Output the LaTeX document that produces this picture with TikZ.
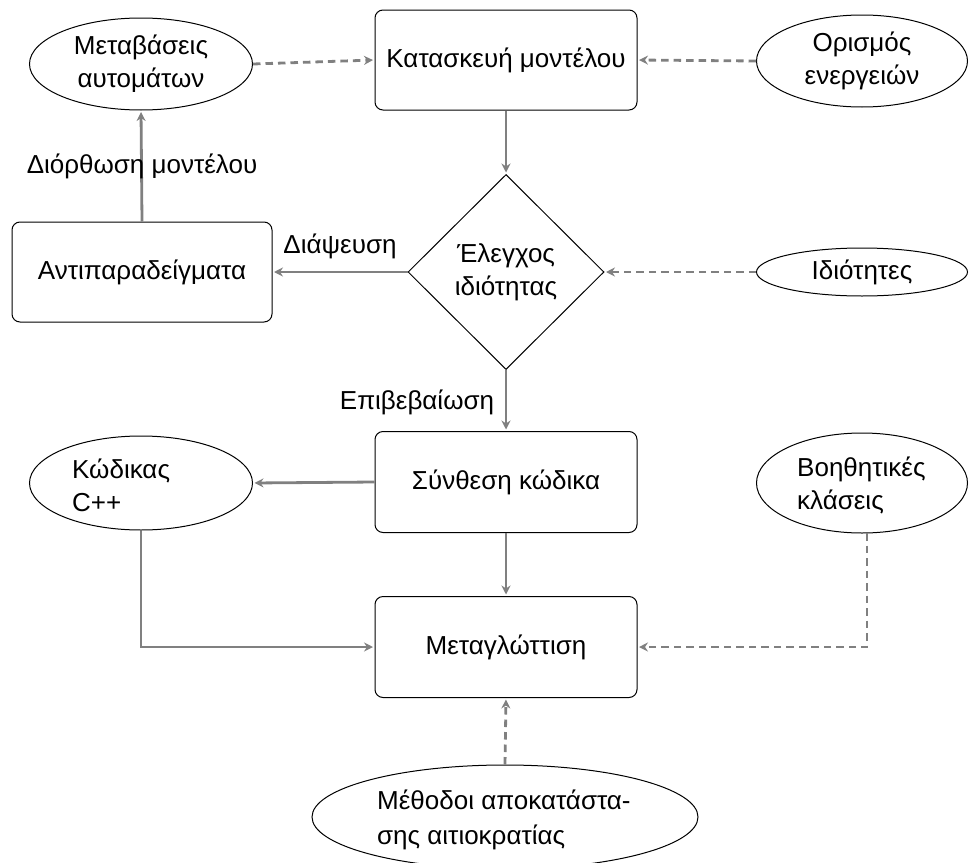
\documentclass[tikz,border=0pt]{standalone}
\usepackage{fontspec}
\setmainfont{Liberation Sans}
\usetikzlibrary{shapes.geometric,arrows.meta}
\definecolor{lnk}{RGB}{128,128,128}
\tikzset{
  box/.style={draw=black, line width=1pt, rounded corners=8pt, minimum width=262pt, minimum height=100pt, inner sep=0pt, font=\fontsize{26}{33}\selectfont},
  ell/.style={draw=black, line width=1pt, ellipse, inner sep=0pt, font=\fontsize{26}{33}\selectfont},
  conn/.style={draw=lnk, line width=2.8pt, -{Stealth[length=9pt,width=9pt,inset=3pt]}, shorten >=1.5pt},
  dconn/.style={conn, dash pattern=on 7.5pt off 5pt},
  lbl/.style={font=\fontsize{26}{33}\selectfont, inner sep=0pt}
}
\begin{document}
\begin{tikzpicture}[x=1pt,y=-1pt]
\useasboundingbox (0,0) rectangle (977,862);
% nodes
\node[box] (build) at (506,60) {Κατασκευή μοντέλου};
\node[ell, minimum width=223pt, minimum height=92pt, align=center] (trans) at (141,64) {Μεταβάσεις\\αυτομάτων};
\node[ell, minimum width=211pt, minimum height=92pt, align=center] (defs) at (862,61) {Ορισμός\\ενεργειών};
\node[draw=black, line width=1pt, diamond, minimum width=196pt, minimum height=195pt, inner sep=0pt, align=center, font=\fontsize{26}{33}\selectfont] (check) at (506,272) {Έλεγχος\\ιδιότητας};
\node[ell, minimum width=211pt, minimum height=48pt] (props) at (862,272) {Ιδιότητες};
\node[box, minimum width=260pt] (cex) at (142,272) {Αντιπαραδείγματα};
\node[box, minimum height=101pt] (synth) at (506,482) {Σύνθεση κώδικα};
\node[ell, minimum width=223pt, minimum height=94pt] (cpp) at (141,483) {};
\node[lbl, anchor=west, align=left] (cppt) at (72,485) {Κώδικας\\C++};
\node[ell, minimum width=211pt, minimum height=100pt] (aux) at (862,483) {};
\node[lbl, anchor=west, align=left] (auxt) at (797,485) {Βοηθητικές\\κλάσεις};
\node[box, minimum height=101pt] (comp) at (506,647) {Μεταγλώττιση};
\node[ell, minimum width=386pt, minimum height=104pt] (meth) at (505,817) {};
\node[lbl, anchor=west, align=left, font=\fontsize{26}{35}\selectfont] (metht) at (377,820) {Μέθοδοι αποκατάστα-\\σης αιτιοκρατίας};
% connectors
\draw[dconn] (trans.east) -- (build.west);
\draw[dconn] (defs.west) -- (build.east);
\draw[conn] (build.south) -- (check.north);
\draw[dconn] (props.west) -- (check.east);
\draw[conn] (check.west) -- (cex.east);
\node[lbl] (lfals) at (340,246) {Διάψευση};
\draw[conn] (cex.north) -- (trans.south);
\node[lbl] (lcorr) at (142,166) {Διόρθωση μοντέλου};
\draw[conn] (check.south) -- (synth.north);
\node[lbl] (lconf) at (417,402) {Επιβεβαίωση};
\draw[conn] (synth.west) -- (cpp.east);
\draw[conn] (synth.south) -- (comp.north);
\draw[conn] (cpp.south) |- (comp.west);
\coordinate (auxb) at (867,533);
\draw[dconn] (auxb) |- (comp.east);
\draw[dconn] (meth.north) -- (comp.south);
\end{tikzpicture}
\end{document}
